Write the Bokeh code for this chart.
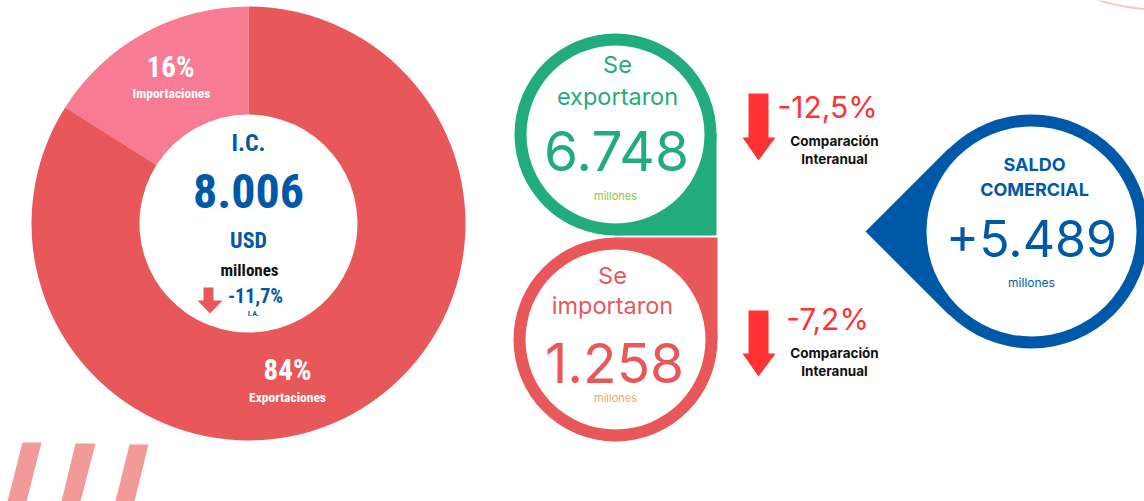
from bokeh.plotting import figure
from bokeh.models import Range1d
from bokeh.core.properties import value
from bokeh.embed import file_html
from bokeh.resources import INLINE
import math

# ---------------- data ----------------
categories = ["Exportaciones", "Importaciones"]
shares = [84, 16]                 # % of intercambio comercial
values_musd = [6748, 1258]        # millones USD
yoy_change = [-12.5, -7.2]        # % interanual
total_ic = 8006
total_change = -11.7
saldo = 5489

def fmt_int(v):
    return f"{v:,}".replace(",", ".")

def fmt_pct(v):
    return f"{v:+.1f}%".replace(".", ",").replace("+", "")

# ---------------- figure ----------------
W, H = 1144, 501
p = figure(width=W, height=H, x_range=Range1d(0, W), y_range=Range1d(0, H),
           output_backend="svg", toolbar_location=None, min_border=0)
p.axis.visible = False
p.grid.visible = False
p.outline_line_color = None
p.background_fill_color = "white"

def Y(py):
    return H - py

COND = "'Roboto Condensed', 'Noto Sans Condensed', 'Liberation Sans Narrow', 'Arial Narrow', 'DejaVu Sans Condensed', Roboto"
INTER = "Inter"
BLUE = "#0059A8"
RED_ARROW = "#FF3333"
EXP_RED = "#E8575A"
IMP_PINK = "#F77B92"
GREEN = "#22AC7C"

# decorative faint arc top right
p.arc(x=[1160], y=[Y(-200)], radius=209, start_angle=math.radians(245), end_angle=math.radians(275),
      line_color="#F6C9C9", line_width=2)

# decorative stripes bottom-left
stripes = [[(22, 442), (41, 442), (26, 501), (7, 501)],
           [(75, 443), (95, 443), (80, 501), (61, 501)],
           [(129, 444), (148, 444), (134, 501), (115, 501)]]
p.patches(xs=[[q[0] for q in s] for s in stripes], ys=[[Y(q[1]) for q in s] for s in stripes],
          fill_color="#F29A9A", line_color=None)

# ---------------- donut ----------------
cx, cy = 248, Y(223)
start = math.radians(90)
imp_end = start + math.radians(shares[1] * 3.6)
exp_end = start + math.radians(360)
p.annular_wedge(x=[cx, cx], y=[cy, cy], inner_radius=109, outer_radius=217,
                start_angle=[start, imp_end], end_angle=[imp_end, exp_end],
                fill_color=[IMP_PINK, EXP_RED], line_color=None)

p.text(x=[170, 287], y=[Y(66), Y(369)], text=[f"{shares[1]}%", f"{shares[0]}%"],
       text_font=value(COND), text_font_style="bold", text_font_size="29px",
       text_color="white", text_align="center", text_baseline="middle")
p.text(x=[171, 287], y=[Y(92), Y(396)], text=[categories[1], categories[0]],
       text_font=value(COND), text_font_style="bold", text_font_size="13.5px",
       text_color="white", text_align="center", text_baseline="middle")

p.text(x=[248], y=[Y(142)], text=["I.C."], text_font=value(COND), text_font_style="bold",
       text_font_size="24px", text_color=BLUE, text_align="center", text_baseline="middle")
p.text(x=[248], y=[Y(190)], text=[fmt_int(total_ic)], text_font=value(COND), text_font_style="bold",
       text_font_size="48px", text_color=BLUE, text_align="center", text_baseline="middle")
p.text(x=[248], y=[Y(240)], text=["USD"], text_font=value(COND), text_font_style="bold",
       text_font_size="22px", text_color=BLUE, text_align="center", text_baseline="middle")
p.text(x=[249], y=[Y(269)], text=["millones"], text_font=value(COND), text_font_style="bold",
       text_font_size="17px", text_color="#111111", text_align="center", text_baseline="middle")
p.text(x=[255], y=[Y(295)], text=[fmt_pct(total_change)], text_font=value(COND), text_font_style="bold",
       text_font_size="20px", text_color=BLUE, text_align="center", text_baseline="middle")
p.text(x=[253], y=[Y(313)], text=["I.A."], text_font=value(COND), text_font_style="bold",
       text_font_size="8px", text_color=BLUE, text_align="center", text_baseline="middle")
# small arrow
ma = [(203, 287), (213, 287), (213, 300), (222, 300), (209.5, 313), (197, 300), (203, 300)]
p.patch(x=[q[0] for q in ma], y=[Y(q[1]) for q in ma], fill_color=EXP_RED, line_color=None)

# ---------------- bubbles ----------------
# exports (green)
gx, gy = 615, Y(134)
p.circle(x=[gx], y=[gy], radius=101, fill_color=GREEN, line_color=None)
p.quad(left=[gx], right=[gx + 101], top=[gy], bottom=[gy - 101], fill_color=GREEN, line_color=None)
p.circle(x=[gx], y=[gy], radius=89, fill_color="white", line_color=None)
p.text(x=[gx + 2, gx + 2], y=[Y(64), Y(96)], text=["Se", "exportaron"], text_font=value(INTER),
       text_font_size="23.5px", text_color=GREEN, text_align="center", text_baseline="middle")
p.text(x=[gx + 1], y=[Y(150)], text=[fmt_int(values_musd[0])], text_font=value(INTER),
       text_font_size="55px", text_color=GREEN, text_align="center", text_baseline="middle")
p.text(x=[gx], y=[Y(195)], text=["millones"], text_font=value(INTER),
       text_font_size="11px", text_color="#8CC63F", text_align="center", text_baseline="middle")

# imports (red)
rx, ry = 615, Y(339)
p.circle(x=[rx], y=[ry], radius=102, fill_color=EXP_RED, line_color=None)
p.quad(left=[rx], right=[rx + 102], top=[ry + 102], bottom=[ry], fill_color=EXP_RED, line_color=None)
p.circle(x=[rx], y=[ry], radius=90, fill_color="white", line_color=None)
p.text(x=[rx - 3, rx - 3], y=[Y(275), Y(305)], text=["Se", "importaron"], text_font=value(INTER),
       text_font_size="23.5px", text_color=EXP_RED, text_align="center", text_baseline="middle")
p.text(x=[rx - 1], y=[Y(362)], text=[fmt_int(values_musd[1])], text_font=value(INTER),
       text_font_size="55px", text_color=EXP_RED, text_align="center", text_baseline="middle")
p.text(x=[rx], y=[Y(397)], text=["millones"], text_font=value(INTER),
       text_font_size="11px", text_color="#F7A66B", text_align="center", text_baseline="middle")

# arrows + changes
for top, htop, tip, pct_y, c1, c2, v in [(93, 137, 160, 106, 140, 158, yoy_change[0]),
                                         (310, 353, 376, 318, 352, 370, yoy_change[1])]:
    pts = [(748, top), (768, top), (768, htop), (775, htop), (758, tip), (742, htop), (748, htop)]
    p.patch(x=[q[0] for q in pts], y=[Y(q[1]) for q in pts], fill_color=RED_ARROW, line_color=None)
    p.text(x=[827], y=[Y(pct_y)], text=[fmt_pct(v)], text_font=value(INTER),
           text_font_size="30px", text_color=RED_ARROW, text_align="center", text_baseline="middle")
    p.text(x=[834, 834], y=[Y(c1), Y(c2)], text=["Comparación", "Interanual"], text_font=value(INTER),
           text_font_style="bold", text_font_size="13.5px", text_color="#111111",
           text_align="center", text_baseline="middle")

# saldo comercial (blue)
bx, by = 1031, Y(231)
tipx = 865
poly = [(tipx, by), (bx - 83, by + 83), (bx, by), (bx - 83, by - 83)]
p.patch(x=[q[0] for q in poly], y=[q[1] for q in poly], fill_color=BLUE, line_color=None)
p.circle(x=[bx], y=[by], radius=117, fill_color=BLUE, line_color=None)
p.circle(x=[bx], y=[by], radius=105, fill_color="white", line_color=None)
p.text(x=[bx + 3, bx + 3], y=[Y(164), Y(189)], text=["SALDO", "COMERCIAL"], text_font=value(INTER),
       text_font_style="bold", text_font_size="18px", text_color=BLUE,
       text_align="center", text_baseline="middle")
p.text(x=[bx], y=[Y(238)], text=["+" + fmt_int(saldo)], text_font=value(INTER),
       text_font_size="50px", text_color=BLUE, text_align="center", text_baseline="middle")
p.text(x=[bx], y=[Y(282)], text=["millones"], text_font=value(INTER),
       text_font_size="12px", text_color=BLUE, text_align="center", text_baseline="middle")

open("out.html", "w").write(file_html(p, INLINE))
